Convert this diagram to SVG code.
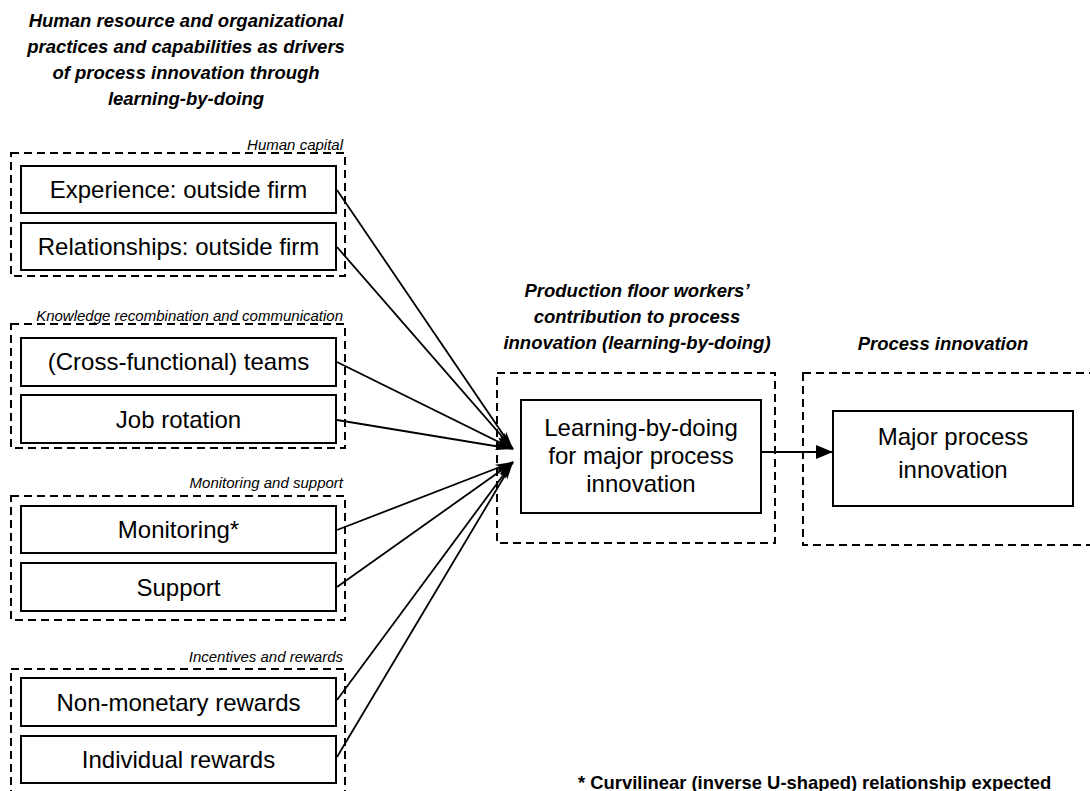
<svg xmlns="http://www.w3.org/2000/svg" width="1090" height="791" viewBox="0 0 1090 791">
<defs>
<style>
.grp{fill:none;stroke:#000;stroke-width:2;stroke-dasharray:8 5}
.box{fill:#fff;stroke:#000;stroke-width:2}
.t{font-family:"Liberation Sans",Arial,sans-serif;font-size:24px;fill:#000;text-anchor:middle}
.lbl{font-family:"Liberation Sans",Arial,sans-serif;font-size:15px;font-style:italic;fill:#000;text-anchor:end}
.hd{font-family:"Liberation Sans",Arial,sans-serif;font-size:18.5px;font-style:italic;font-weight:bold;fill:#000;text-anchor:middle}
.fn{font-family:"Liberation Sans",Arial,sans-serif;font-size:18.4px;font-weight:bold;fill:#000}
.c{fill:none;stroke:#000;stroke-width:1.8}
</style>
<marker id="ah" viewBox="0 0 18 9" refX="18" refY="4.5" markerWidth="18" markerHeight="9" markerUnits="userSpaceOnUse" orient="auto">
<path d="M0,0.5 L18,4.5 L0,8.5 L4,4.5 Z" fill="#000"/>
</marker>
<marker id="ah2" viewBox="0 0 17 14" refX="17" refY="7" markerWidth="17" markerHeight="14" markerUnits="userSpaceOnUse" orient="auto">
<path d="M0,0 L17,7 L0,14 Z" fill="#000"/>
</marker>
</defs>
<rect width="1090" height="791" fill="#fff"/>

<g id="title">
<text class="hd" font-size="19" x="186" y="27">Human resource and organizational</text>
<text class="hd" font-size="19" x="186" y="53">practices and capabilities as drivers</text>
<text class="hd" font-size="19" x="186" y="79">of process innovation through</text>
<text class="hd" font-size="19" x="186" y="105">learning-by-doing</text>
</g>

<g id="group-human-capital">
<rect class="grp" x="11" y="153" width="334" height="123"/>
<text class="lbl" x="343" y="150">Human capital</text>
</g>
<g id="node-experience">
<rect class="box" x="21" y="166" width="315" height="47"/>
<text class="t" x="178.5" y="198">Experience: outside firm</text>
</g>
<g id="node-relationships">
<rect class="box" x="21" y="223" width="315" height="47"/>
<text class="t" x="178.5" y="255">Relationships: outside firm</text>
</g>

<g id="group-knowledge">
<rect class="grp" x="11" y="324" width="334" height="124"/>
<text class="lbl" x="343" y="321">Knowledge recombination and communication</text>
</g>
<g id="node-teams">
<rect class="box" x="21" y="338" width="315" height="48"/>
<text class="t" x="178.5" y="370">(Cross-functional) teams</text>
</g>
<g id="node-jobrotation">
<rect class="box" x="21" y="395" width="315" height="48"/>
<text class="t" x="178.5" y="428">Job rotation</text>
</g>

<g id="group-monitoring">
<rect class="grp" x="11" y="496" width="334" height="124"/>
<text class="lbl" x="343" y="488">Monitoring and support</text>
</g>
<g id="node-monitoring">
<rect class="box" x="21" y="506" width="315" height="47"/>
<text class="t" x="178.5" y="538">Monitoring*</text>
</g>
<g id="node-support">
<rect class="box" x="21" y="563" width="315" height="48"/>
<text class="t" x="178.5" y="596">Support</text>
</g>

<g id="group-incentives">
<rect class="grp" x="11" y="669" width="334" height="140"/>
<text class="lbl" x="343" y="662">Incentives and rewards</text>
</g>
<g id="node-nonmonetary">
<rect class="box" x="21" y="678" width="315" height="48"/>
<text class="t" x="178.5" y="711">Non-monetary rewards</text>
</g>
<g id="node-individual">
<rect class="box" x="21" y="736" width="315" height="47"/>
<text class="t" x="178.5" y="768">Individual rewards</text>
</g>

<g id="group-production">
<text class="hd" x="637" y="297">Production floor workers’</text>
<text class="hd" x="637" y="323">contribution to process</text>
<text class="hd" x="637" y="349">innovation (learning-by-doing)</text>
<rect class="grp" x="497" y="373" width="278" height="170"/>
</g>
<g id="node-lbd">
<rect class="box" x="521" y="400" width="240" height="113"/>
<text class="t" x="641" y="436">Learning-by-doing</text>
<text class="t" x="641" y="464">for major process</text>
<text class="t" x="641" y="492">innovation</text>
</g>

<g id="group-process">
<text class="hd" x="943" y="350">Process innovation</text>
<rect class="grp" x="803" y="373" width="300" height="172"/>
</g>
<g id="node-major">
<rect class="box" x="833" y="411" width="240" height="95"/>
<text class="t" x="953" y="445">Major process</text>
<text class="t" x="953" y="478">innovation</text>
</g>

<g id="connectors">
<line class="c" x1="337" y1="190" x2="513" y2="449" marker-end="url(#ah)"/>
<line class="c" x1="337" y1="247" x2="513" y2="449" marker-end="url(#ah)"/>
<line class="c" x1="337" y1="362" x2="513" y2="449" marker-end="url(#ah)"/>
<line class="c" x1="337" y1="420" x2="513" y2="449" marker-end="url(#ah)"/>
<line class="c" x1="337" y1="530" x2="513" y2="462" marker-end="url(#ah)"/>
<line class="c" x1="337" y1="587" x2="513" y2="462" marker-end="url(#ah)"/>
<line class="c" x1="337" y1="700" x2="513" y2="462" marker-end="url(#ah)"/>
<line class="c" x1="337" y1="757" x2="513" y2="462" marker-end="url(#ah)"/>
<line class="c" stroke-width="2" x1="761" y1="452" x2="833" y2="452" marker-end="url(#ah2)"/>
</g>

<text class="fn" x="578" y="789">* Curvilinear (inverse U-shaped) relationship expected</text>
</svg>
